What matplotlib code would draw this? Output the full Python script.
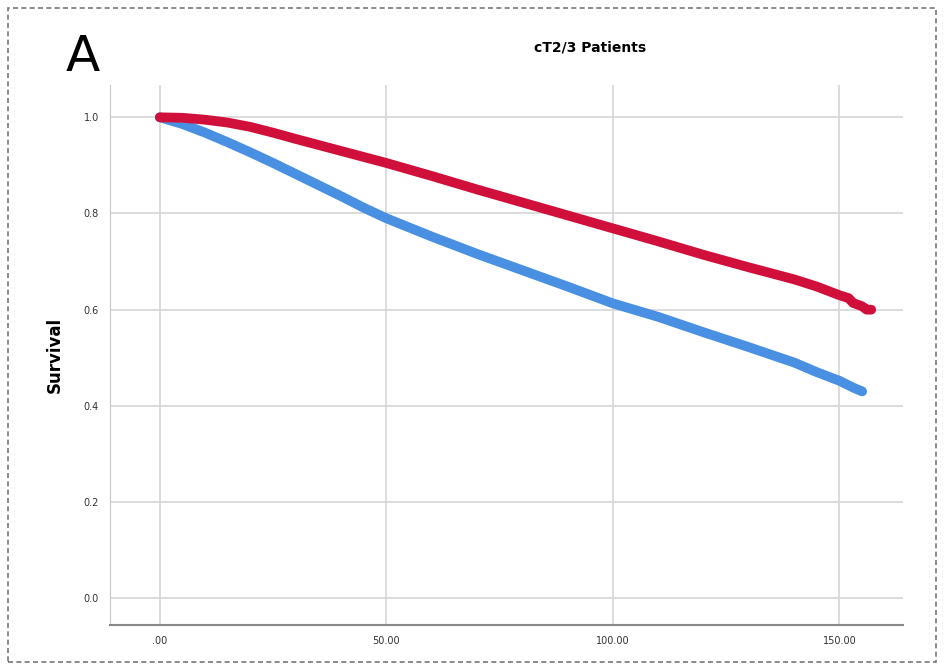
import matplotlib.pyplot as plt
from matplotlib.patches import Rectangle

# survival curves (months vs survival)
red_time = [0, 5, 10, 15, 20, 25, 30, 40, 50, 60, 70, 80, 90, 100, 110, 120,
            130, 140, 145, 150, 152, 153, 155, 156, 157]
red_surv = [1.0, 0.999, 0.995, 0.989, 0.98, 0.968, 0.955, 0.93, 0.905, 0.878,
            0.85, 0.823, 0.796, 0.769, 0.742, 0.714, 0.688, 0.663, 0.648,
            0.63, 0.624, 0.614, 0.607, 0.6, 0.6]
blue_time = [0, 5, 10, 15, 20, 25, 30, 35, 40, 45, 50, 60, 70, 80, 90, 100,
             110, 120, 130, 140, 145, 150, 153, 155]
blue_surv = [1.0, 0.986, 0.968, 0.948, 0.927, 0.905, 0.882, 0.859, 0.836,
             0.812, 0.79, 0.752, 0.716, 0.682, 0.648, 0.613, 0.585, 0.553,
             0.522, 0.49, 0.47, 0.452, 0.438, 0.43]

x_ticks = [0, 50, 100, 150]
x_labels = ['.00', '50.00', '100.00', '150.00']
y_ticks = [0.0, 0.2, 0.4, 0.6, 0.8, 1.0]

fig = plt.figure(figsize=(9.44, 6.7), dpi=100)
ax = fig.add_axes([0.1165, 0.067, 0.84, 0.806])

ax.plot(blue_time, blue_surv, color='#4a90e2', lw=7, solid_capstyle='round',
        solid_joinstyle='round', zorder=3)
ax.plot(red_time, red_surv, color='#d0103a', lw=7, solid_capstyle='round',
        solid_joinstyle='round', zorder=4)

ax.set_xlim(-11, 164)
ax.set_ylim(-0.056, 1.067)
ax.set_xticks(x_ticks)
ax.set_xticklabels(x_labels)
ax.set_yticks(y_ticks)
ax.set_yticklabels([f'{v:.1f}' for v in y_ticks])
ax.tick_params(length=0, labelsize=7, colors='#333333', pad=8)
ax.grid(True, color='#d6d6d6', lw=1.2)
ax.set_axisbelow(True)

for s in ['top', 'right']:
    ax.spines[s].set_visible(False)
ax.spines['left'].set_color('#c8c8c8')
ax.spines['bottom'].set_color('#888888')
ax.spines['bottom'].set_linewidth(1.5)

ax.set_ylabel('Survival', fontsize=12, fontweight='bold', labelpad=14)
ax.set_title('cT2/3 Patients', fontsize=10, fontweight='bold', pad=24,
             x=0.605)
fig.text(0.07, 0.915, 'A', fontsize=36, va='center', ha='left')

# dashed frame round the panel
fig.patches.append(Rectangle((0.008, 0.012), 0.984, 0.976,
                             transform=fig.transFigure, fill=False,
                             ec='#777777', lw=1.2, ls=(0, (3, 2))))

fig.savefig('out.png', dpi=100)
